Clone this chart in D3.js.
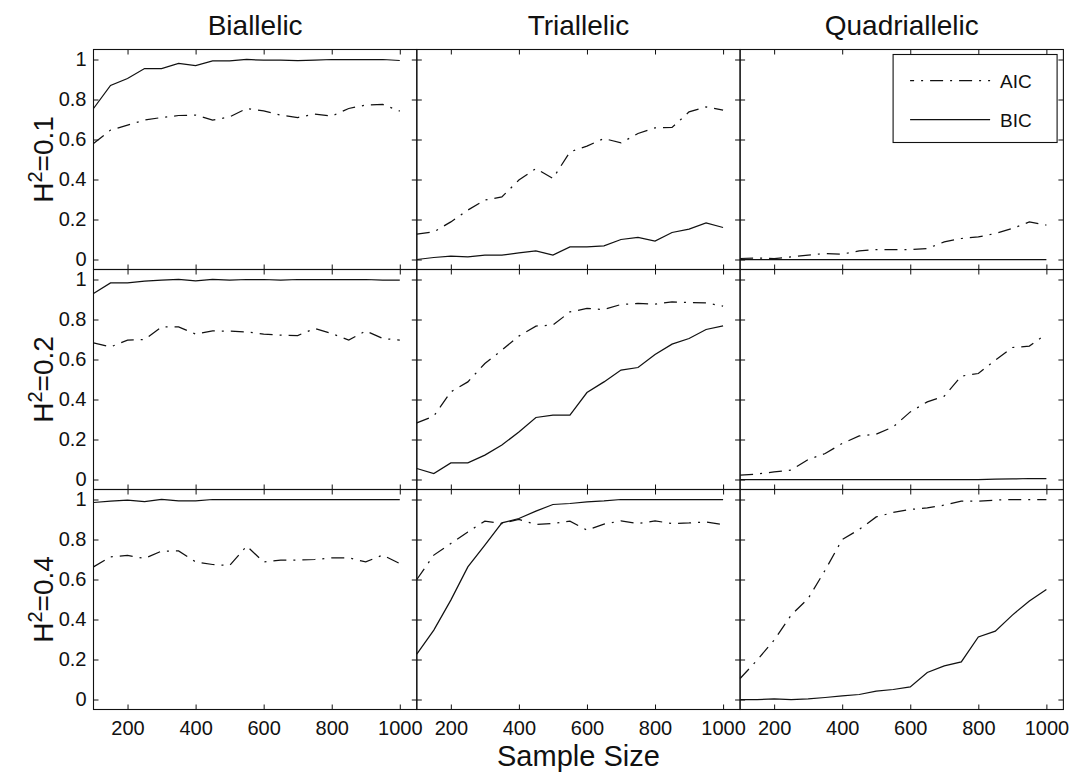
<!DOCTYPE html>
<html>
<head>
<meta charset="utf-8">
<script src="https://d3js.org/d3.v7.min.js"></script>
<style>
  body { margin: 0; background: #fff; }
  svg text { font-family: "Liberation Sans", Arial, Helvetica, sans-serif; fill: #111; }
</style>
</head>
<body>
<svg width="1071" height="774"></svg>
<script>
  const sampleSizes = [100, 150, 200, 250, 300, 350, 400, 450, 500, 550, 600, 650, 700, 750, 800, 850, 900, 950, 1000];
  const columnTitles = ['Biallelic', 'Triallelic', 'Quadriallelic'];
  const rowLabels = ['0.1', '0.2', '0.4'];
  const xTicks = [200, 400, 600, 800, 1000];
  const yTicks = [0, 0.2, 0.4, 0.6, 0.8, 1];
  const legendLabels = ['AIC', 'BIC'];

  // H^2 = 0.1
  const aic_01_bi = [0.58, 0.647, 0.672, 0.697, 0.71, 0.72, 0.722, 0.697, 0.713, 0.755, 0.743, 0.722, 0.71, 0.727, 0.717, 0.755, 0.772, 0.775, 0.742];
  const bic_01_bi = [0.755, 0.87, 0.905, 0.955, 0.955, 0.98, 0.97, 0.993, 0.993, 1.0, 0.997, 0.997, 0.995, 0.997, 1.0, 1.0, 1.0, 1.0, 0.995];
  const aic_01_tri = [0.127, 0.138, 0.188, 0.247, 0.297, 0.313, 0.397, 0.455, 0.405, 0.538, 0.567, 0.605, 0.583, 0.63, 0.658, 0.66, 0.738, 0.763, 0.747];
  const bic_01_tri = [0.0, 0.01, 0.017, 0.013, 0.022, 0.022, 0.033, 0.043, 0.022, 0.063, 0.063, 0.068, 0.1, 0.11, 0.092, 0.135, 0.152, 0.183, 0.16];
  const aic_01_quad = [0.005, 0.008, 0.005, 0.013, 0.022, 0.03, 0.027, 0.043, 0.05, 0.05, 0.05, 0.055, 0.088, 0.105, 0.113, 0.13, 0.155, 0.188, 0.172];
  const bic_01_quad = [0, 0, 0, 0, 0, 0, 0, 0, 0, 0, 0, 0, 0, 0, 0, 0, 0, 0, 0];

  // H^2 = 0.2
  const aic_02_bi = [0.683, 0.663, 0.697, 0.70, 0.763, 0.763, 0.727, 0.743, 0.742, 0.738, 0.727, 0.722, 0.72, 0.755, 0.73, 0.697, 0.743, 0.705, 0.697];
  const bic_02_bi = [0.93, 0.983, 0.983, 0.992, 0.997, 1.0, 0.993, 1.0, 0.997, 1.0, 1.0, 0.997, 1.0, 1.0, 1.0, 1.0, 1.0, 0.997, 0.997];
  const aic_02_tri = [0.283, 0.317, 0.438, 0.488, 0.58, 0.647, 0.717, 0.767, 0.772, 0.838, 0.855, 0.85, 0.875, 0.88, 0.877, 0.888, 0.885, 0.883, 0.867];
  const bic_02_tri = [0.055, 0.03, 0.083, 0.083, 0.122, 0.172, 0.238, 0.31, 0.322, 0.322, 0.435, 0.488, 0.547, 0.56, 0.625, 0.677, 0.705, 0.75, 0.768];
  const aic_02_quad = [0.022, 0.027, 0.038, 0.047, 0.1, 0.13, 0.18, 0.218, 0.227, 0.263, 0.338, 0.388, 0.417, 0.517, 0.53, 0.597, 0.66, 0.667, 0.727];
  const bic_02_quad = [0, 0, 0, 0, 0, 0, 0, 0, 0, 0, 0, 0, 0, 0, 0, 0.002, 0.003, 0.005, 0.005];

  // H^2 = 0.4
  const aic_04_bi = [0.663, 0.713, 0.72, 0.705, 0.742, 0.743, 0.688, 0.675, 0.67, 0.767, 0.688, 0.697, 0.697, 0.70, 0.708, 0.708, 0.688, 0.722, 0.68];
  const bic_04_bi = [0.985, 0.992, 0.997, 0.99, 1.0, 0.993, 0.993, 1.0, 1.0, 1.0, 1.0, 1.0, 1.0, 1.0, 1.0, 1.0, 1.0, 1.0, 1.0];
  const aic_04_tri = [0.60, 0.722, 0.78, 0.838, 0.892, 0.88, 0.9, 0.875, 0.88, 0.892, 0.847, 0.877, 0.893, 0.88, 0.893, 0.88, 0.883, 0.888, 0.875];
  const bic_04_tri = [0.227, 0.347, 0.497, 0.663, 0.772, 0.883, 0.905, 0.942, 0.975, 0.98, 0.988, 0.993, 1.0, 1.0, 1.0, 1.0, 1.0, 1.0, 1.0];
  const aic_04_quad = [0.105, 0.197, 0.297, 0.422, 0.505, 0.647, 0.8, 0.85, 0.913, 0.935, 0.95, 0.958, 0.972, 0.992, 0.992, 0.997, 1.0, 1.0, 1.0];
  const bic_04_quad = [0, 0, 0.003, 0, 0.003, 0.01, 0.018, 0.025, 0.042, 0.05, 0.063, 0.135, 0.168, 0.188, 0.313, 0.342, 0.422, 0.493, 0.55];

  // rows = heritability, cols = allele count
  const panels = [
    [[aic_01_bi, bic_01_bi], [aic_01_tri, bic_01_tri], [aic_01_quad, bic_01_quad]],
    [[aic_02_bi, bic_02_bi], [aic_02_tri, bic_02_tri], [aic_02_quad, bic_02_quad]],
    [[aic_04_bi, bic_04_bi], [aic_04_tri, bic_04_tri], [aic_04_quad, bic_04_quad]]
  ];

  const svg = d3.select('svg');
  const gridLeft = 93.5, gridTop = 49.5;
  const panelW = 323.3, panelH = 220;
  const dashDot = '13,7,2,7';

  const line = (x, y) => d3.line()
    .x((d, i) => x(sampleSizes[i]))
    .y(d => y(d));

  panels.forEach((row, r) => {
    row.forEach((series, c) => {
      const x0 = gridLeft + c * panelW;
      const y0 = gridTop + r * panelH;

      const x = d3.scaleLinear().domain([100, 1050]).range([x0, x0 + panelW]);
      const y = d3.scaleLinear().domain([-0.05, 1.05]).range([y0 + panelH, y0]);

      const g = svg.append('g');

      // inward ticks on all four sides, like a boxed matlab axes
      const bottomAxis = d3.axisBottom(x).tickValues(xTicks).tickSize(-5).tickPadding(11)
        .tickFormat(r === 2 ? d3.format('d') : () => '');
      const topAxis = d3.axisTop(x).tickValues(xTicks).tickSize(-5).tickFormat(() => '');
      const leftAxis = d3.axisLeft(y).tickValues(yTicks).tickSize(-5).tickPadding(7)
        .tickFormat(c === 0 ? (d => d === 0 || d === 1 ? String(d) : d3.format('.1f')(d)) : () => '');
      const rightAxis = d3.axisRight(y).tickValues(yTicks).tickSize(-5).tickFormat(() => '');

      g.append('g').attr('transform', `translate(0,${y0 + panelH})`).call(bottomAxis);
      g.append('g').attr('transform', `translate(0,${y0})`).call(topAxis);
      g.append('g').attr('transform', `translate(${x0},0)`).call(leftAxis);
      g.append('g').attr('transform', `translate(${x0 + panelW},0)`).call(rightAxis);

      g.selectAll('.domain').remove();
      g.selectAll('.tick line').attr('stroke', '#111');
      g.selectAll('.tick text').attr('font-size', 20).attr('fill', '#111');
      g.selectAll('g').attr('font-family', null);

      g.append('rect')
        .attr('x', x0).attr('y', y0)
        .attr('width', panelW).attr('height', panelH)
        .attr('fill', 'none').attr('stroke', '#111').attr('stroke-width', 1.1);

      // AIC
      g.append('path')
        .datum(series[0])
        .attr('d', line(x, y))
        .attr('fill', 'none').attr('stroke', '#111').attr('stroke-width', 1.25)
        .attr('stroke-dasharray', dashDot);

      // BIC
      g.append('path')
        .datum(series[1])
        .attr('d', line(x, y))
        .attr('fill', 'none').attr('stroke', '#111').attr('stroke-width', 1.25);

      if (r === 0) {
        svg.append('text')
          .attr('x', x0 + panelW / 2).attr('y', 35)
          .attr('text-anchor', 'middle').attr('font-size', 28)
          .text(columnTitles[c]);
      }

      if (c === 0) {
        const lab = svg.append('text')
          .attr('transform', `translate(53,${y0 + panelH / 2}) rotate(-90)`)
          .attr('text-anchor', 'middle').attr('font-size', 28);
        lab.append('tspan').text('H');
        lab.append('tspan').attr('font-size', 20).attr('dy', -11).text('2');
        lab.append('tspan').attr('dy', 11).text('=' + rowLabels[r]);
      }

      if (r === 0 && c === 2) {
        const lg = svg.append('g').attr('transform', `translate(${x0 + 153},${y0 + 5})`);
        lg.append('rect').attr('width', 164).attr('height', 88)
          .attr('fill', '#fff').attr('stroke', '#111').attr('stroke-width', 1.1);
        legendLabels.forEach((name, i) => {
          const ly = 26 + i * 39;
          lg.append('line')
            .attr('x1', 17).attr('x2', 97).attr('y1', ly).attr('y2', ly)
            .attr('stroke', '#111').attr('stroke-width', 1.25)
            .attr('stroke-dasharray', i === 0 ? dashDot : null)
            .attr('stroke-dashoffset', i === 0 ? -20 : null);
          lg.append('text')
            .attr('x', 107).attr('y', ly + 7)
            .attr('font-size', 19)
            .text(name);
        });
      }
    });
  });

  svg.append('text')
    .attr('x', gridLeft + 1.5 * panelW).attr('y', 766)
    .attr('text-anchor', 'middle').attr('font-size', 29)
    .text('Sample Size');
</script>
</body>
</html>
